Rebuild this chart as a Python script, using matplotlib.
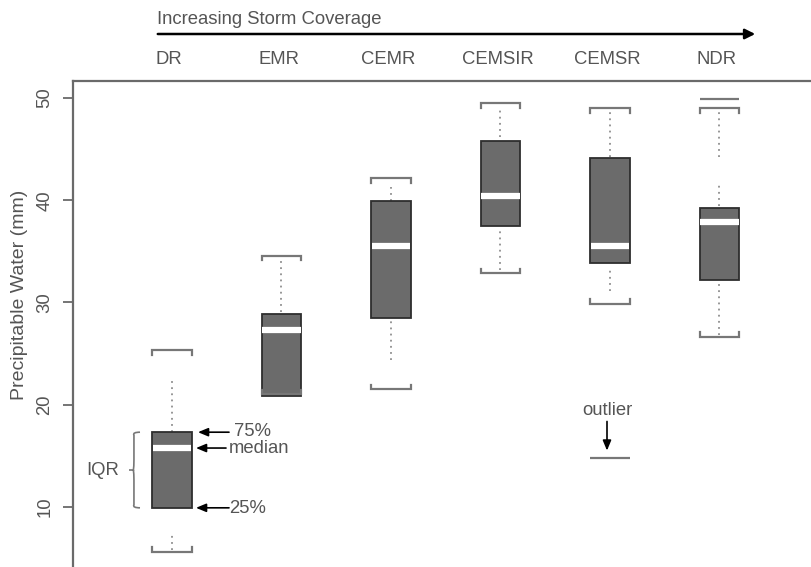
import matplotlib
matplotlib.use("Agg")
import matplotlib.pyplot as plt
import matplotlib.transforms as mtransforms
from matplotlib.path import Path
from matplotlib.patches import PathPatch
import numpy as np

plt.rcParams['font.family'] = ['Liberation Sans', 'DejaVu Sans']

# ---- data ----
categories = ['DR', 'EMR', 'CEMR', 'CEMSIR', 'CEMSR', 'NDR']
q1 = [9.9, 20.8, 28.5, 37.5, 33.9, 32.2]
median = [15.75, 27.3, 35.55, 40.4, 35.55, 37.85]
q3 = [17.3, 28.85, 39.95, 45.8, 44.1, 39.2]
cap_low = [5.6, 21.0, 21.5, 32.85, 29.85, 26.65]
cap_high = [25.35, 34.55, 42.15, 49.5, 49.0, 49.0]
# dotted whisker segments (from, to)
whisker_upper = [[(17.3, 22.4)], [(29.1, 34.1)], [(39.95, 41.3)],
                 [(46.2, 49.0)], [(44.26, 48.66)], [(39.4, 41.7), (44.2, 48.66)]]
whisker_lower = [[(5.8, 7.55)], [], [(24.4, 28.3)],
                 [(33.17, 37.0)], [(31.15, 33.5)], [(26.8, 31.97)]]
outlier_cat = ['CEMSR', 'NDR']
outlier_val = [14.75, 49.9]
yticks = [10, 20, 30, 40, 50]

# ---- figure ----
W, H = 812, 567
fig = plt.figure(figsize=(W / 100, H / 100), dpi=100)
ax_left, ax_right, ax_top, ax_bot = 73, 840, 81, 585
ax = fig.add_axes([ax_left / W, (H - ax_bot) / H, (ax_right - ax_left) / W, (ax_bot - ax_top) / H])

pos = np.arange(1, len(categories) + 1)
px_per_unit = 109.5
ax.set_xlim(1 - (172 - ax_left) / px_per_unit, 1 + (ax_right - 172) / px_per_unit)
ypx = 10.22
ax.set_ylim(50 - (ax_bot - 98) / ypx, 50 + (98 - ax_top) / ypx)

bw = 0.365
gray_line = '#777777'
box_col = '#6b6b6b'
txt_col = '#555555'
fs = 13.3

# boxes
ax.bar(pos, np.array(q3) - np.array(q1), bottom=q1, width=bw, color=box_col,
       edgecolor='#2e2e2e', linewidth=1.3, zorder=3)
# medians
ax.hlines(median, pos - bw / 2 + 0.008, pos + bw / 2 - 0.008, color='white', lw=4.5, zorder=4)

# whiskers (dotted)
for p, segs in zip(pos, whisker_upper):
    for a, b in segs:
        ax.plot([p, p], [a, b], color='#8f8f8f', lw=1.3, ls=(0, (1, 2.4)), zorder=2)
for p, segs in zip(pos, whisker_lower):
    for a, b in segs:
        ax.plot([p, p], [a, b], color='#8f8f8f', lw=1.3, ls=(0, (1, 2.4)), zorder=2)

# bracket caps
tick = 0.45
for p, lo, hi in zip(pos, cap_low, cap_high):
    xl, xr = p - bw / 2, p + bw / 2
    ax.plot([xl, xl, xr, xr], [hi - tick, hi, hi, hi - tick], color=gray_line, lw=1.6,
            solid_joinstyle='miter', zorder=3)
    ax.plot([xl, xl, xr, xr], [lo + tick, lo, lo, lo + tick], color=gray_line, lw=1.6,
            solid_joinstyle='miter', zorder=3)

# outliers as plain lines
for c, v in zip(outlier_cat, outlier_val):
    p = pos[categories.index(c)]
    ax.hlines(v, p - bw / 2, p + bw / 2, color=gray_line, lw=1.6, zorder=3)

# axes style
for s in ['right', 'bottom']:
    ax.spines[s].set_visible(False)
for s in ['left', 'top']:
    ax.spines[s].set_color('#6a6a6a')
    ax.spines[s].set_linewidth(1.6)
ax.set_xticks([])
ax.set_yticks(yticks)
ax.set_yticklabels([str(t) for t in yticks], rotation=90, va='center', fontsize=fs, color=txt_col)
ax.tick_params(axis='y', length=7, width=1.3, color='#6a6a6a', pad=7)
ax.set_ylabel('Precipitable Water (mm)', fontsize=14, color=txt_col)
ax.yaxis.set_label_coords((28 - ax_left) / (ax_right - ax_left), (ax_bot - 295) / (ax_bot - ax_top))

# top category labels
blend = mtransforms.blended_transform_factory(ax.transData, fig.transFigure)
for p, c in zip(pos, categories):
    ax.text(p - 0.025, 1 - 60 / H, c, transform=blend, ha='center', va='center',
            fontsize=fs, color=txt_col)

# increasing storm coverage arrow
fig.text(157 / W, 1 - 19 / H, 'Increasing Storm Coverage', ha='left', va='center',
         fontsize=fs, color=txt_col)
fig.patches.append(matplotlib.patches.FancyArrowPatch(
    (155 / W, 1 - 34 / H), (758 / W, 1 - 34 / H), transform=fig.transFigure,
    arrowstyle='-|>,head_length=6,head_width=3', color='black', lw=1.8, mutation_scale=1))

# annotations for DR box
arr = dict(arrowstyle='-|>,head_length=0.6,head_width=0.25', color='black', lw=1.2,
           shrinkA=0, shrinkB=0)
i = 0
ax.annotate('', xy=(1 + (198 - 172) / px_per_unit, q3[i]),
            xytext=(1 + (229 - 172) / px_per_unit, q3[i]), arrowprops=arr)
ax.text(1 + (234 - 172) / px_per_unit, q3[i] + 0.1, '75%', ha='left', va='center', fontsize=fs, color=txt_col)
ax.annotate('', xy=(1 + (196 - 172) / px_per_unit, median[i]),
            xytext=(1 + (226 - 172) / px_per_unit, median[i]), arrowprops=arr)
ax.text(1 + (229 - 172) / px_per_unit, median[i], 'median', ha='left', va='center', fontsize=fs, color=txt_col)
ax.annotate('', xy=(1 + (196 - 172) / px_per_unit, q1[i]),
            xytext=(1 + (229 - 172) / px_per_unit, q1[i]), arrowprops=arr)
ax.text(1 + (229 - 172) / px_per_unit, q1[i] - 0.1, '25%', ha='left', va='center', fontsize=fs, color=txt_col)

# IQR brace
bx = 1 + (140 - 172) / px_per_unit
tipx = 1 + (129 - 172) / px_per_unit
ym = (q1[i] + q3[i]) / 2
dx = bx - tipx
verts = [(bx, q3[i]), (bx - dx * 0.7, q3[i]), (bx - dx * 0.55, q3[i] - 0.3), (bx - dx * 0.55, ym + 1.0),
         (bx - dx * 0.55, ym + 0.3), (bx - dx * 0.6, ym), (tipx, ym),
         (bx - dx * 0.6, ym), (bx - dx * 0.55, ym - 0.3), (bx - dx * 0.55, ym - 1.0),
         (bx - dx * 0.55, q1[i] + 0.3), (bx - dx * 0.7, q1[i]), (bx, q1[i])]
codes = [Path.MOVETO, Path.CURVE3, Path.CURVE3, Path.LINETO,
         Path.CURVE3, Path.CURVE3, Path.LINETO,
         Path.MOVETO, Path.CURVE3, Path.CURVE3, Path.LINETO, Path.CURVE3, Path.CURVE3]
ax.add_patch(PathPatch(Path(verts, codes), facecolor='none', edgecolor='#777777', lw=1.2))
ax.text(1 + (103 - 172) / px_per_unit, ym, 'IQR', ha='center', va='center', fontsize=fs, color=txt_col)

# outlier annotation
j = categories.index('CEMSR')
ox = 1 + (607 - 172) / px_per_unit
ax.text(ox, 19.45, 'outlier', ha='center', va='center', fontsize=fs, color=txt_col)
ax.annotate('', xy=(ox, 15.5), xytext=(ox, 18.35), arrowprops=arr)

fig.savefig('out.png', dpi=100)
